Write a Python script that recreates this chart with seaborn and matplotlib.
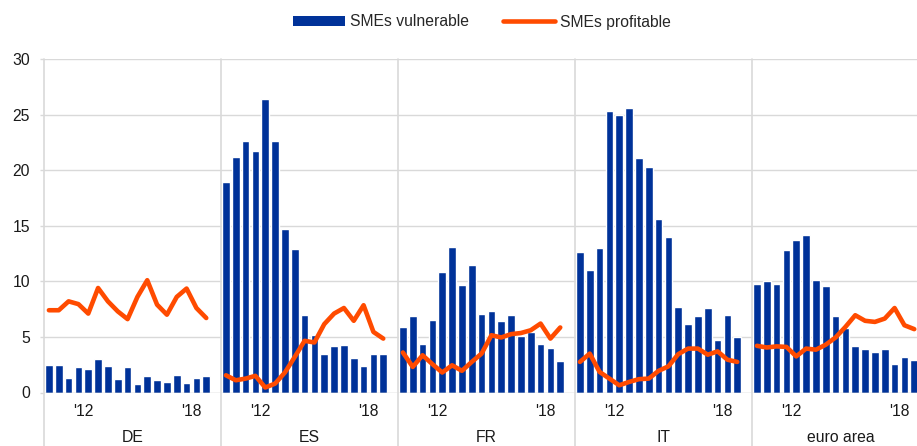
import numpy as np
import pandas as pd
import seaborn as sns
import matplotlib.pyplot as plt
from matplotlib.patches import Patch
from matplotlib.lines import Line2D

# semiannual survey waves, 2010 H2 .. 2018 H2 (17 waves per country)
countries = ["DE", "ES", "FR", "IT", "euro area"]

vulnerable = {
    "DE": [2.5, 2.5, 1.3, 2.3, 2.1, 3.0, 2.4, 1.2, 2.3, 0.8, 1.5, 1.1, 0.9, 1.6, 0.85, 1.3, 1.5],
    "ES": [18.9, 21.2, 22.6, 21.7, 26.4, 22.6, 14.7, 12.9, 7.0, 5.2, 3.5, 4.2, 4.3, 3.1, 2.4, 3.5, 3.5],
    "FR": [5.9, 6.9, 4.4, 6.5, 10.8, 13.1, 9.7, 11.5, 7.1, 7.3, 6.4, 7.0, 5.1, 5.4, 4.4, 4.0, 2.8],
    "IT": [12.6, 11.0, 13.0, 25.3, 25.0, 25.6, 21.1, 20.3, 15.6, 14.0, 7.7, 6.2, 6.9, 7.6, 4.7, 7.0, 5.0],
    "euro area": [9.8, 10.0, 9.8, 12.8, 13.7, 14.2, 10.1, 9.6, 6.9, 5.8, 4.2, 3.9, 3.6, 3.9, 2.6, 3.2, 2.9],
}
profitable = {
    "DE": [7.4, 7.4, 8.2, 7.95, 7.1, 9.4, 8.2, 7.3, 6.6, 8.6, 10.1, 7.9, 7.0, 8.6, 9.35, 7.6, 6.7],
    "ES": [1.55, 1.1, 1.25, 1.5, 0.45, 0.8, 1.8, 3.2, 4.65, 4.5, 6.15, 7.1, 7.6, 6.45, 7.85, 5.45, 4.85],
    "FR": [3.6, 2.3, 3.35, 2.55, 1.8, 2.45, 1.95, 2.75, 3.5, 5.15, 4.95, 5.25, 5.35, 5.6, 6.2, 4.85, 5.85],
    "IT": [2.75, 3.5, 1.85, 1.25, 0.65, 0.95, 1.2, 1.25, 1.95, 2.35, 3.45, 3.95, 3.95, 3.4, 3.7, 2.95, 2.75],
    "euro area": [4.2, 4.05, 4.15, 4.1, 3.25, 3.95, 3.85, 4.3, 4.95, 5.9, 6.95, 6.45, 6.35, 6.65, 7.6, 6.05, 5.7],
}
year_ticks = [3.5, 14.5]
year_labels = ["'12", "'18"]

BLUE = "#003299"
ORANGE = "#FF4B00"
GRID = "#d9d9d9"

rows = []
for c in countries:
    for i, (v, p) in enumerate(zip(vulnerable[c], profitable[c])):
        rows.append({"country": c, "slot": i, "vulnerable": v, "profitable": p})
df = pd.DataFrame(rows)

sns.set_style("white")
plt.rcParams["font.family"] = ["Liberation Sans", "DejaVu Sans"]
plt.rcParams["font.size"] = 11.3

W, H = 917, 446
fig = plt.figure(figsize=(W / 100, H / 100), dpi=100)

top, bottom = 59, 392.5
panel_w = 177
x0 = 44
for g, c in enumerate(countries):
    left = x0 + g * panel_w
    ax = fig.add_axes([left / W, (H - bottom) / H, panel_w / W, (bottom - top) / H])
    sub = df[df["country"] == c]
    sns.barplot(data=sub, x="slot", y="vulnerable", order=list(range(18)), color=BLUE,
                saturation=1, width=0.78, errorbar=None, ax=ax, zorder=3)
    sns.lineplot(data=sub, x="slot", y="profitable", color=ORANGE, linewidth=3.3,
                 ax=ax, zorder=4, solid_capstyle="round", solid_joinstyle="round")
    ax.set_xlim(-0.5, 17.5)
    ax.set_ylim(0, 30)
    for yv in range(5, 31, 5):
        ax.axhline(yv, color=GRID, lw=1, zorder=1)
    ax.axhline(0, color="#bfbfbf", lw=1, zorder=5)
    for s in ax.spines.values():
        s.set_visible(False)
    ax.set_xticks(year_ticks)
    ax.set_xticklabels(year_labels)
    ax.tick_params(axis="x", length=0, pad=8, labelsize=11.3, colors="#1a1a1a")
    ax.set_xlabel("")
    ax.set_ylabel("")
    ax.set_yticks(range(0, 31, 5))
    if g == 0:
        ax.tick_params(axis="y", length=3, width=1, pad=7, labelsize=11.3,
                       left=True, labelcolor="#1a1a1a", color=GRID)
    else:
        ax.tick_params(axis="y", length=0, labelleft=False)
    fig.text((left + panel_w / 2) / W, (H - 430) / H, c, ha="center", va="top",
             fontsize=11.3, color="#1a1a1a")
    fig.add_artist(Line2D([left / W, left / W], [0, (H - top) / H], color=GRID, lw=1.2,
                          transform=fig.transFigure))

handles = [Patch(facecolor=BLUE, edgecolor="none"),
           Line2D([], [], color=ORANGE, lw=3.3, solid_capstyle="round")]
fig.legend(handles, ["SMEs vulnerable", "SMEs profitable"], loc="center",
           bbox_to_anchor=(482 / W, (H - 22) / H), ncol=2, frameon=False,
           handlelength=3.3, handleheight=0.55, handletextpad=0.3, columnspacing=2.2,
           fontsize=11.3)

fig.savefig("out.png", dpi=100)
